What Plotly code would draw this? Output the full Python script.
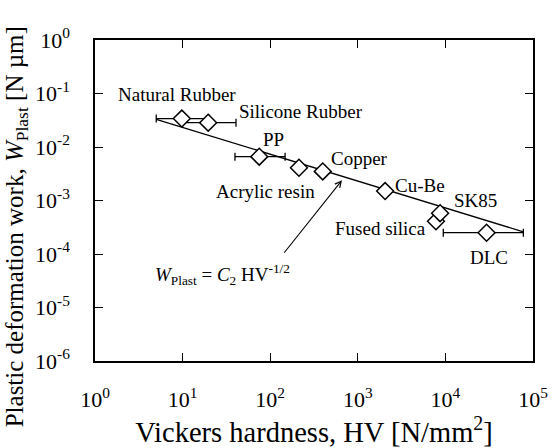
import numpy as np
import plotly.graph_objects as go

# ---- data ----
materials = ["Natural Rubber", "Silicone Rubber", "PP", "Acrylic resin", "Copper",
             "Cu-Be", "Fused silica", "SK85", "DLC"]
hv = [9.8, 19.6, 75, 213, 398, 2050, 7800, 8700, 29500]
w_plast = [0.034, 0.0285, 0.0066, 0.0041, 0.0035, 0.0015, 4.1e-4, 5.8e-4, 2.5e-4]
hv_err_low = [4.8, 9.6, 35.4, 0, 0, 0, 0, 0, 20040]
hv_err_high = [10.2, 21.1, 73, 0, 0, 0, 0, 0, 48100]

fit_hv = [5, 77600]
fit_w = [0.033, 2.6e-4]

x_tickvals = [1, 10, 100, 1000, 10000, 100000]
x_ticktext = ["10<sup>0</sup>", "10<sup>1</sup>", "10<sup>2</sup>", "10<sup>3</sup>",
              "10<sup>4</sup>", "10<sup>5</sup>"]
y_tickvals = [1, 0.1, 0.01, 1e-3, 1e-4, 1e-5, 1e-6]
y_ticktext = ["10<sup>0</sup>", "10<sup>-1</sup>", "10<sup>-2</sup>", "10<sup>-3</sup>",
              "10<sup>-4</sup>", "10<sup>-5</sup>", "10<sup>-6</sup>"]

# label placement (text, x, y, anchor)
labels = [
    ("Natural Rubber", 1.74, 0.0966, "left"),
    ("Silicone Rubber", 41.9, 0.0465, "left"),
    ("PP", 108, 0.0139, "center"),
    ("Acrylic resin", 87.5, 0.00150, "center"),
    ("Copper", 469, 0.0061, "left"),
    ("Cu-Be", 2520, 0.00192, "left"),
    ("SK85", 11900, 0.00101, "left"),
    ("Fused silica", 6330, 3.0e-4, "right"),
    ("DLC", 31400, 8.5e-5, "center"),
]
formula_text = "<i>W</i><sub>Plast</sub> = <i>C</i><sub>2</sub> HV<sup>-1/2</sup>"
formula_pos = (4.6, 4.2e-5)
arrow_head = (660, 0.0024)
arrow_tail = (140, 9.9e-5)

x_title = "Vickers hardness, HV [N/mm<sup>2</sup>]"
y_title = "Plastic deformation work, <i>W</i><sub>Plast</sub> [N µm]"

FONT = "Liberation Serif"

fig = go.Figure()
fig.add_trace(go.Scatter(x=fit_hv, y=fit_w, mode="lines",
                         line=dict(color="black", width=1.3), showlegend=False))
fig.add_trace(go.Scatter(
    x=hv, y=w_plast, mode="markers",
    marker=dict(symbol="diamond", size=13, color="white",
                line=dict(color="black", width=1.5)),
    error_x=dict(type="data", symmetric=False, array=hv_err_high,
                 arrayminus=hv_err_low, color="black", thickness=1.3, width=4),
    showlegend=False))

annotations = []
for text, x, y, anchor in labels:
    annotations.append(dict(x=np.log10(x), y=np.log10(y), text=text, showarrow=False,
                            xanchor=anchor, yanchor="middle",
                            font=dict(family=FONT, size=19, color="black")))
annotations.append(dict(x=np.log10(formula_pos[0]), y=np.log10(formula_pos[1]),
                        text=formula_text, showarrow=False, xanchor="left",
                        yanchor="middle", font=dict(family=FONT, size=19, color="black")))
annotations.append(dict(x=np.log10(arrow_head[0]), y=np.log10(arrow_head[1]),
                        ax=np.log10(arrow_tail[0]), ay=np.log10(arrow_tail[1]),
                        axref="x", ayref="y", xref="x", yref="y", text="",
                        showarrow=True, arrowhead=5, arrowsize=1.1, arrowwidth=1.1,
                        arrowcolor="black"))
annotations.append(dict(xref="paper", yref="paper", x=-0.18, y=0.417, text=y_title,
                        textangle=-90, showarrow=False, xanchor="center", yanchor="middle",
                        font=dict(family=FONT, size=25, color="black")))

axis_common = dict(showgrid=False, zeroline=False, showline=True, linecolor="black",
                   linewidth=1.5, mirror="ticks", ticks="inside", ticklen=8,
                   tickwidth=1.2, tickcolor="black",
                   tickfont=dict(family=FONT, size=22, color="black"))

fig.update_xaxes(type="log", range=[0, 5], tickvals=x_tickvals, ticktext=x_ticktext,
                 ticklabelstandoff=18,
                 title=dict(text=x_title,
                            font=dict(family=FONT, size=28.5, color="black"), standoff=0),
                 **axis_common)
fig.update_yaxes(type="log", range=[-6, 0], tickvals=y_tickvals, ticktext=y_ticktext,
                 ticklabelstandoff=19, **axis_common)

fig.update_layout(width=552, height=448, margin=dict(l=95, r=19, t=40, b=87, autoexpand=False),
                  plot_bgcolor="white", paper_bgcolor="white",
                  annotations=annotations, font=dict(family=FONT, color="black"))

fig.write_html("out.html", config={"displayModeBar": False},
               post_script="document.body.style.margin='0';")
